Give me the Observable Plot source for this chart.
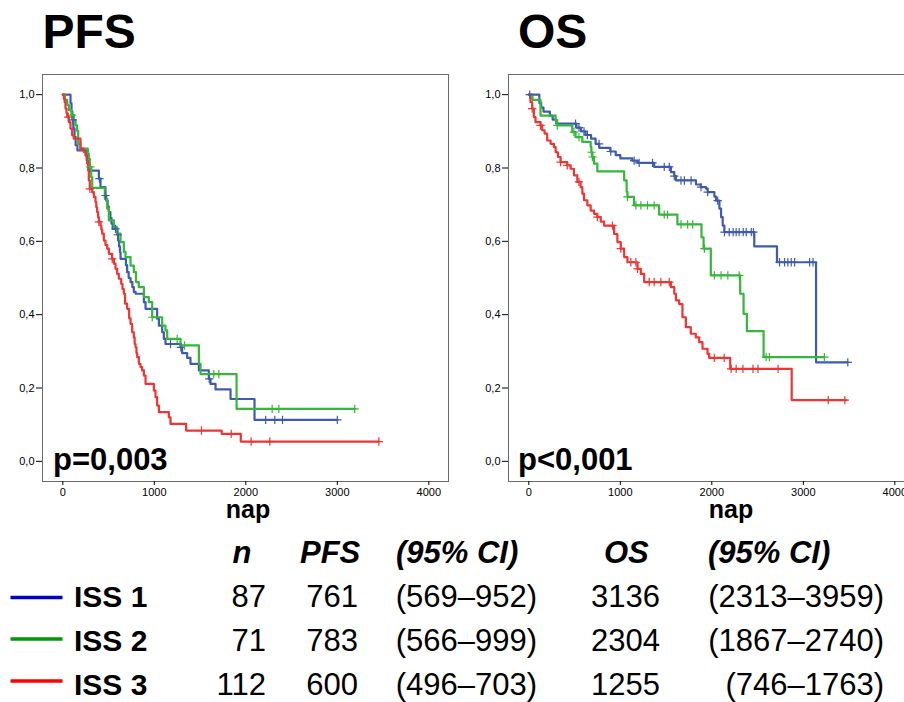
<!DOCTYPE html>
<html><head><meta charset="utf-8">
<script src="https://cdn.jsdelivr.net/npm/d3@7"></script>
<script src="https://cdn.jsdelivr.net/npm/@observablehq/plot@0.6"></script>
<style>
html,body{margin:0;padding:0;background:#fff;}
#wrap{position:relative;width:904px;height:702px;overflow:hidden;background:#fff;font-family:"Liberation Sans",Arial,Helvetica,sans-serif;}
.panel{position:absolute;top:60px;}
#overlay{position:absolute;left:0;top:0;pointer-events:none;}
</style></head><body><div id="wrap"></div>
<script>
// ---------- data ----------
const groups = ["ISS 1", "ISS 2", "ISS 3"];
const curveColors = ["#3f5bad", "#36b63a", "#ef3434"];
const legendColors = ["#0000cc", "#009900", "#ff0000"];
const xTicks = [0, 1000, 2000, 3000, 4000];
const yTicks = [0, 0.2, 0.4, 0.6, 0.8, 1.0];

// PFS step points [day, survival]
const pfsISS1 = [[0,1],[84,0.977],[95,0.954],[105,0.931],[115,0.908],[128,0.885],[140,0.862],[160,0.848],[266,0.82],[284,0.793],[394,0.771],[412,0.748],[466,0.725],[475,0.711],[490,0.695],[503,0.680],[520,0.664],[532,0.648],[545,0.634],[594,0.618],[605,0.602],[615,0.586],[625,0.570],[631,0.552],[690,0.535],[703,0.516],[720,0.50],[740,0.489],[760,0.475],[776,0.462],[795,0.457],[886,0.434],[904,0.416],[1031,0.389],[1050,0.370],[1086,0.352],[1104,0.334],[1122,0.320],[1286,0.311],[1304,0.295],[1359,0.282],[1395,0.266],[1487,0.248],[1596,0.225],[1614,0.211],[1669,0.196],[1833,0.170],[2095,0.113],[3000,0.113]];
const pfsISS2 = [[0,1],[22,0.986],[48,0.972],[66,0.958],[95,0.944],[120,0.930],[139,0.916],[157,0.901],[168,0.866],[193,0.853],[273,0.839],[284,0.825],[295,0.803],[310,0.775],[321,0.746],[459,0.716],[485,0.689],[503,0.657],[558,0.639],[594,0.621],[631,0.598],[667,0.571],[685,0.557],[740,0.534],[776,0.516],[800,0.489],[830,0.475],[886,0.448],[940,0.434],[977,0.393],[1086,0.370],[1122,0.357],[1141,0.334],[1286,0.316],[1487,0.266],[1505,0.238],[1899,0.143],[3190,0.143]];
const pfsISS3 = [[0,1],[11,0.989],[20,0.98],[29,0.962],[40,0.95],[48,0.939],[66,0.925],[84,0.907],[102,0.889],[120,0.880],[193,0.853],[230,0.843],[248,0.834],[260,0.821],[266,0.812],[277,0.793],[284,0.766],[295,0.743],[321,0.734],[339,0.721],[357,0.707],[366,0.693],[375,0.680],[385,0.666],[394,0.653],[412,0.643],[421,0.632],[430,0.621],[448,0.602],[466,0.59],[485,0.580],[503,0.566],[539,0.552],[558,0.539],[576,0.525],[594,0.511],[612,0.498],[638,0.484],[652,0.47],[667,0.457],[680,0.43],[703,0.416],[725,0.39],[740,0.375],[758,0.352],[776,0.338],[785,0.32],[795,0.311],[805,0.295],[813,0.284],[831,0.266],[849,0.257],[867,0.248],[886,0.234],[904,0.211],[995,0.193],[1013,0.175],[1031,0.152],[1050,0.134],[1159,0.120],[1177,0.102],[1348,0.084],[1736,0.075],[1945,0.054],[3454,0.054]];

// OS step points [day, survival]
const osISS1 = [[0,1],[115,0.977],[135,0.965],[160,0.954],[230,0.943],[260,0.932],[300,0.921],[520,0.91],[570,0.90],[620,0.89],[680,0.88],[730,0.866],[770,0.855],[890,0.845],[950,0.835],[1000,0.826],[1130,0.82],[1190,0.814],[1370,0.803],[1553,0.789],[1590,0.778],[1608,0.766],[1827,0.755],[1880,0.748],[1937,0.744],[1955,0.734],[2028,0.722],[2046,0.711],[2083,0.689],[2101,0.666],[2119,0.643],[2137,0.625],[2464,0.586],[2712,0.543],[3139,0.270],[3486,0.270]];
const osISS2 = [[0,1],[40,0.986],[128,0.943],[293,0.930],[311,0.916],[475,0.898],[511,0.884],[585,0.871],[676,0.857],[684,0.843],[695,0.830],[713,0.812],[749,0.791],[1042,0.766],[1069,0.735],[1078,0.721],[1150,0.698],[1424,0.673],[1624,0.646],[1887,0.611],[1910,0.580],[1989,0.507],[2310,0.457],[2347,0.402],[2383,0.355],[2566,0.284],[3230,0.284]];
const osISS3 = [[0,1],[18,0.980],[37,0.962],[55,0.939],[73,0.925],[128,0.916],[146,0.903],[172,0.894],[201,0.875],[238,0.866],[274,0.857],[293,0.843],[318,0.830],[347,0.816],[420,0.807],[457,0.798],[493,0.780],[530,0.762],[566,0.748],[585,0.730],[603,0.712],[640,0.698],[676,0.684],[713,0.675],[749,0.666],[786,0.654],[822,0.643],[932,0.620],[968,0.598],[1005,0.580],[1042,0.557],[1078,0.543],[1188,0.525],[1224,0.511],[1261,0.489],[1553,0.475],[1590,0.457],[1608,0.439],[1643,0.429],[1679,0.393],[1716,0.366],[1770,0.348],[1825,0.338],[1862,0.325],[1898,0.307],[1953,0.293],[1971,0.282],[2201,0.252],[2873,0.167],[3468,0.167]];

// censored observations (days)
const pfsCens1 = [110, 400, 466, 576, 600, 1177, 1290, 1600, 2217, 2317, 2401, 3000];
const pfsCens2 = [100, 300, 977, 1250, 1330, 1650, 1705, 2288, 2361, 3190];
const pfsCens3 = [60, 295, 394, 540, 1515, 1840, 2058, 2262, 3454];
const osCens1 = [10, 511, 548, 603, 640, 768, 895, 1151, 1206, 1352, 1480, 1535, 1590, 1663, 1700, 1773, 1882, 1955, 2064, 2138, 2190, 2233, 2266, 2299, 2343, 2376, 2431, 2455, 2740, 2795, 2831, 2868, 2905, 3069, 3106, 3486];
const osCens2 = [311, 493, 548, 684, 695, 1078, 1170, 1224, 1297, 1370, 1480, 1516, 1663, 1736, 1791, 1919, 2028, 2101, 2175, 2299, 2593, 2629, 3230];
const osCens3 = [37, 128, 347, 420, 548, 749, 914, 1005, 1115, 1170, 1188, 1316, 1370, 1443, 1535, 2027, 2135, 2211, 2266, 2340, 2450, 2504, 2724, 3272, 3454];

// table
const nValues = ["87", "71", "112"];
const pfsMedian = ["761", "783", "600"];
const pfsCI = ["(569\u2013952)", "(566\u2013999)", "(496\u2013703)"];
const osMedian = ["3136", "2304", "1255"];
const osCI = ["(2313\u20133959)", "(1867\u20132740)", "(746\u20131763)"];
const headers = ["n", "PFS", "(95% CI)", "OS", "(95% CI)"];
const panelTitles = ["PFS", "OS"];
const pValues = ["p=0,003", "p<0,001"];
const xLabel = "nap";

// ---------- helpers ----------
const FONT = '"Liberation Sans", Arial, Helvetica, sans-serif';
function stepRows(curves) {
  return curves.flatMap((c, i) => c.map(([t, s]) => ({t, s, g: groups[i]})));
}
function censorRows(curves, cens) {
  return cens.flatMap((arr, i) => {
    const c = curves[i];
    const times = c.map(d => d[0]);
    return arr.map(t => {
      const k = Math.max(0, d3.bisectRight(times, t) - 1);
      return {t, s: c[k][1], g: groups[i]};
    });
  });
}
function kmPlot(curves, cens) {
  return Plot.plot({
    width: 460, height: 470,
    marginLeft: 42, marginRight: 12, marginTop: 14, marginBottom: 49,
    x: {domain: [-222, 4215]},
    y: {domain: [-0.055, 1.055]},
    color: {domain: groups, range: curveColors},
    style: {fontFamily: FONT, fontSize: "11px", color: "#000", background: "transparent"},
    marks: [
      Plot.frame({stroke: "#6a6a6a", strokeWidth: 1}),
      Plot.axisY({ticks: yTicks, tickSize: 6, tickPadding: 2, label: null, fontSize: 11,
        tickFormat: d => d.toFixed(1).replace(".", ",")}),
      Plot.axisX({ticks: xTicks, tickSize: 4, tickPadding: 3, label: null, fontSize: 11,
        tickFormat: d => String(d)}),
      Plot.line(stepRows(curves), {x: "t", y: "s", z: "g", stroke: "g", curve: "step-after", strokeWidth: 2.2}),
      Plot.dot(censorRows(curves, cens), {x: "t", y: "s", stroke: "g", symbol: "plus", r: 2.8, strokeWidth: 1.2})
    ]
  });
}

// ---------- build ----------
const wrap = document.getElementById("wrap");
const p1 = kmPlot([pfsISS1, pfsISS2, pfsISS3], [pfsCens1, pfsCens2, pfsCens3]);
p1.classList.add("panel"); p1.style.left = "0px";
wrap.appendChild(p1);
const p2 = kmPlot([osISS1, osISS2, osISS3], [osCens1, osCens2, osCens3]);
p2.classList.add("panel"); p2.style.left = "466px";
wrap.appendChild(p2);

const svg = d3.select(wrap).append("svg").attr("id", "overlay")
  .attr("width", 904).attr("height", 702).style("font-family", FONT);

// panel titles
[[42.5, panelTitles[0]], [518, panelTitles[1]]].forEach(([x, t]) =>
  svg.append("text").attr("x", x).attr("y", 47.5).attr("font-size", 48).attr("font-weight", "bold").text(t));
// p-values
[[53, pValues[0]], [518, pValues[1]]].forEach(([x, t]) =>
  svg.append("text").attr("x", x).attr("y", 469.5).attr("font-size", 31).attr("font-weight", "bold").text(t));
// x labels
[248, 731].forEach(x =>
  svg.append("text").attr("x", x).attr("y", 518).attr("text-anchor", "middle").attr("font-size", 25)
    .attr("font-weight", "bold").text(xLabel));

// table header
const headerX = [[242, "middle"], [300, "start"], [396, "start"], [604, "start"], [708, "start"]];
headers.forEach((h, i) =>
  svg.append("text").attr("x", headerX[i][0]).attr("y", 563).attr("text-anchor", headerX[i][1])
    .attr("font-size", 31).attr("font-weight", "bold").attr("font-style", "italic").text(h));

const rowBase = [607, 651, 695];
const lineY = [597.5, 639, 681];
groups.forEach((g, i) => {
  svg.append("line").attr("x1", 10.5).attr("x2", 62.5).attr("y1", lineY[i]).attr("y2", lineY[i])
    .attr("stroke", legendColors[i]).attr("stroke-width", 3.5);
  svg.append("text").attr("x", 74).attr("y", rowBase[i]).attr("font-size", 30).attr("font-weight", "bold").text(g);
  const cells = [[266, nValues[i]], [358, pfsMedian[i]], [537, pfsCI[i]], [660, osMedian[i]], [884, osCI[i]]];
  cells.forEach(([x, t]) =>
    svg.append("text").attr("x", x).attr("y", rowBase[i]).attr("text-anchor", "end").attr("font-size", 31).text(t));
});
</script></body></html>
